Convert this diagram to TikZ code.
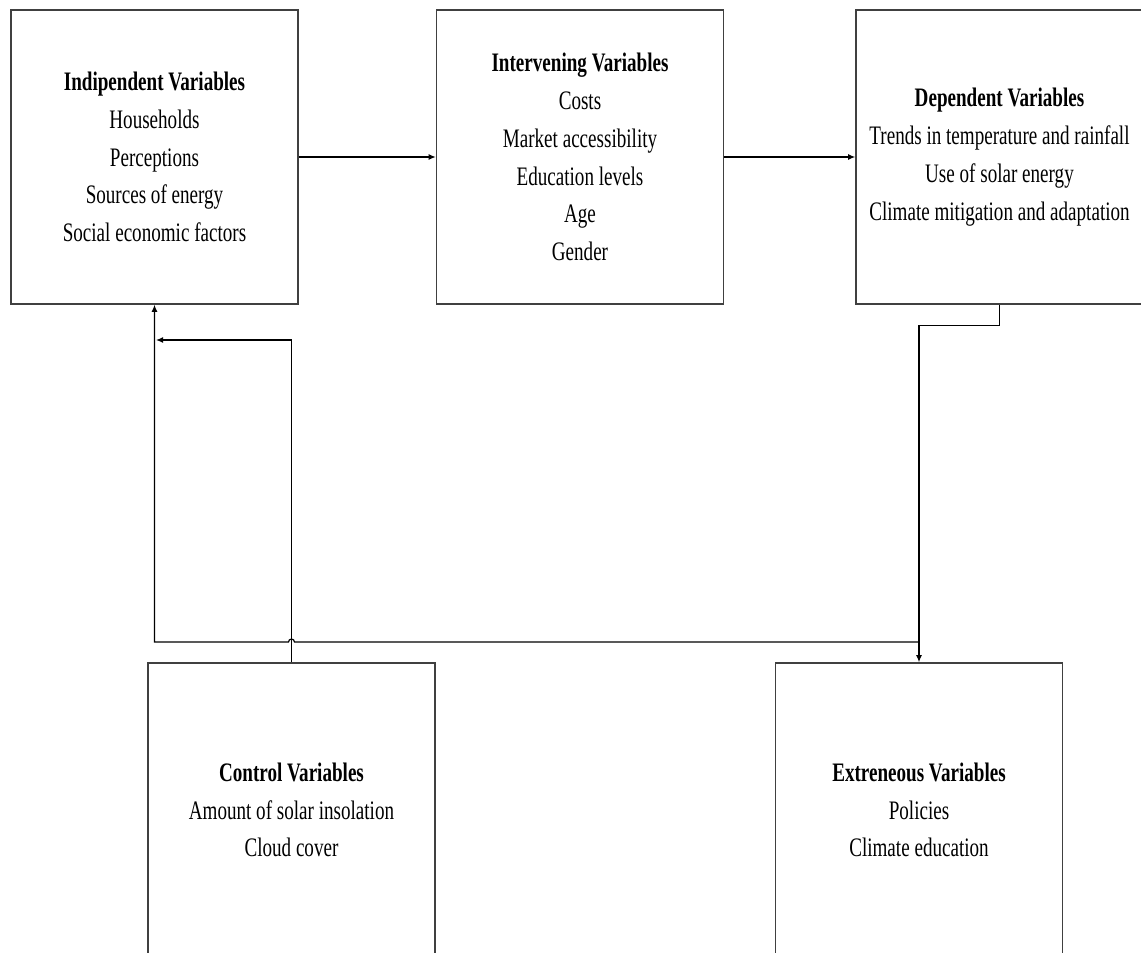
\documentclass[tikz,border=0pt]{standalone}
\usepackage{fontspec}
\setmainfont{Liberation Serif}[FakeStretch=0.715]
\usepackage{tikz}
\usetikzlibrary{arrows.meta,positioning}

\begin{document}
\begin{tikzpicture}[x=0.5pt, y=-0.5pt,
  node distance = 68.5pt,
  varbox/.style = {rectangle, draw=black!75, line width=0.75pt,
                   minimum width=143.5pt, minimum height=147pt,
                   inner sep=0pt, align=center,
                   font=\fontsize{13.35}{18.9}\selectfont},
  arr/.style    = {-{Latex[length=3.6pt,width=3pt]}, line width=0.6pt}
]
\useasboundingbox (0,0) rectangle (1141,953);

% , - Top row , -
\node[varbox] (indep) at (154.5,157)
  {\textbf{Indipendent Variables}\\Households\\Perceptions\\Sources of energy\\Social economic factors};
\node[varbox, right=of indep] (interv)
  {\textbf{Intervening Variables}\\Costs\\Market accessibility\\Education levels\\Age\\Gender};
\node[varbox, right=65.5pt of interv] (dep)
  {\textbf{Dependent Variables}\\Trends in temperature and rainfall\\Use of solar energy\\Climate mitigation and adaptation};

% , - Bottom row , -
\node[varbox] (ctrl) at (291.5,810)
  {\textbf{Control Variables}\\Amount of solar insolation\\Cloud cover};
\node[varbox] (ext) at (919,810)
  {\textbf{Extreneous Variables}\\Policies\\Climate education};

% , - Bend points , -
\coordinate (cbar) at (156,340);
\coordinate (jn)   at (919,642);
\coordinate (hop)  at (294.5,642);
\coordinate (crn)  at (154.5,642);

% , - Arrows: top row , -
\draw[arr] (indep) -- (interv);
\draw[arr] (interv) -- (dep);

% , - Arrows: down and back , -
\draw[arr] (dep.south) -- ++(0,21) -| (ext.north);
\draw[arr] (jn) -- (hop) arc[start angle=0, end angle=180, radius=1.5pt]
           -- (crn) -- (indep.south);
\draw[arr] (ctrl.north) |- (cbar);

\end{tikzpicture}
\end{document}
